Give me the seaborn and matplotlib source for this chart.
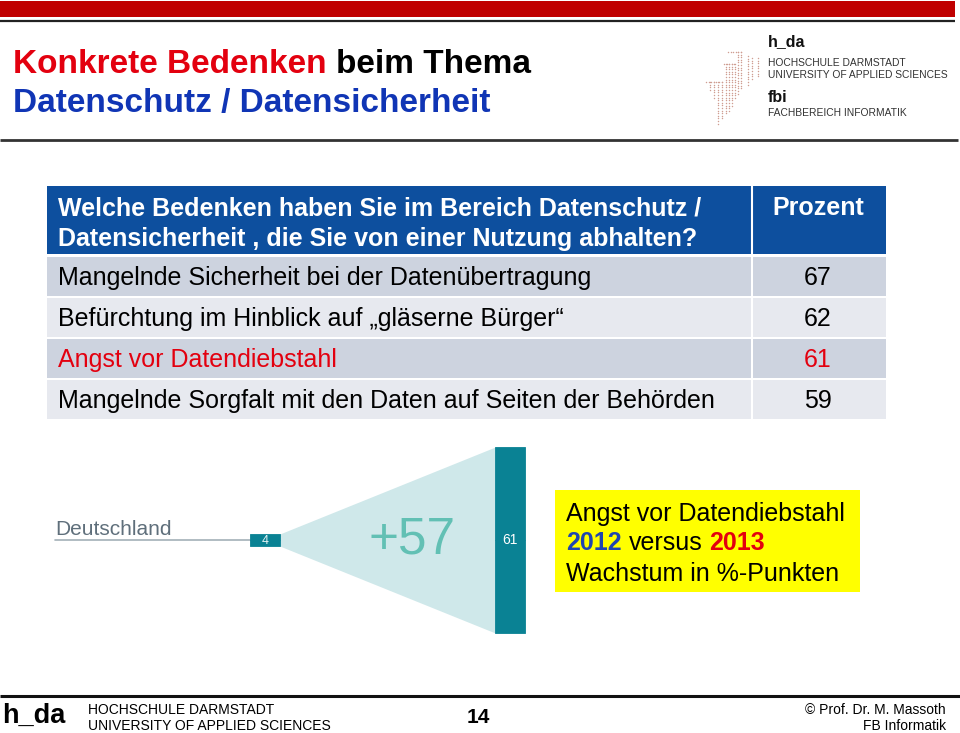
import numpy as np
import matplotlib
matplotlib.use("Agg")
import matplotlib.pyplot as plt
from matplotlib.patches import Rectangle
import seaborn as sns

# ---------------- data ----------------
title_line1 = [("Konkrete Bedenken", "red"), ("beim Thema", "black")]
title_line2 = "Datenschutz / Datensicherheit"
question_lines = ["Welche Bedenken haben Sie im Bereich Datenschutz /",
                  "Datensicherheit , die Sie von einer Nutzung abhalten?"]
value_header = "Prozent"
concerns = ["Mangelnde Sicherheit bei der Datenübertragung",
            "Befürchtung im Hinblick auf \u201egläserne Bürger\u201c",
            "Angst vor Datendiebstahl",
            "Mangelnde Sorgfalt mit den Daten auf Seiten der Behörden"]
percent = [67, 62, 61, 59]
highlight = [False, False, True, False]

country = "Deutschland"
years = ["2012", "2013"]
theft_values = [4, 61]

# ---------------- styling ----------------
sns.set_theme(style="white")
plt.rcParams["font.family"] = ["Liberation Sans", "DejaVu Sans"]

RED = "#e3000f"
BLUE = "#1035b5"
HEAD = "#0d4f9e"
ROW_DARK = "#cdd3df"
ROW_LIGHT = "#e7e9ef"
TEAL = "#0a8294"
TEAL_LIGHT = "#cfe8ea"
TEAL_TEXT = "#62c0b4"

W, H = 960, 733
fig = plt.figure(figsize=(W / 100, H / 100), dpi=100)
bg = fig.add_axes([0, 0, 1, 1])
bg.set_xlim(0, W)
bg.set_ylim(H, 0)
bg.axis("off")
renderer = fig.canvas.get_renderer()


def text_width(s, **kw):
    t = bg.text(0, 0, s, **kw)
    w = t.get_window_extent(renderer).width
    t.remove()
    return w


def seg_text(x, y, segments, **kw):
    """Draw consecutive text segments separated by a space."""
    sp = text_width("x x", **kw) - text_width("xx", **kw)
    for s, color in segments:
        t = bg.text(x, y, s, color=color, va="baseline", ha="left", **kw)
        x += t.get_window_extent(renderer).width + sp


# ---------------- top decoration ----------------
bg.add_patch(Rectangle((0, 1), 955, 16, color="#c00000", lw=0))
bg.plot([0, 955], [20.5, 20.5], color="#222222", lw=1.6, solid_capstyle="butt")
bg.plot([0, 958], [139.5, 139.5], color="#333333", lw=2.0, solid_capstyle="butt")

# title
seg_text(13, 73, [(title_line1[0][0], RED), (title_line1[1][0], "black")],
         fontsize=24, fontweight="bold")
bg.text(13, 112, title_line2, color=BLUE, fontsize=24, fontweight="bold",
        va="baseline")

# logo (top right)
logo_cols = [(718, 82, 125), (722, 82, 120), (714, 82, 100), (710, 82, 92),
             (726, 64, 115), (729, 64, 112), (732, 64, 108), (735, 64, 100),
             (738, 52, 95), (741, 52, 90), (748, 56, 86), (752, 58, 80),
             (758, 58, 78)]
for cx, y0, y1 in logo_cols:
    ys = np.arange(y0, y1, 2.6)
    bg.scatter(np.full(len(ys), cx), ys, s=1.1, color="#cf9e92", lw=0)
for yy, xa, xb in [(82, 706, 722), (64, 724, 736), (52, 728, 742)]:
    xs = np.arange(xa, xb, 2.6)
    bg.scatter(xs, np.full(len(xs), yy), s=1.1, color="#cf9e92", lw=0)
bg.text(768, 46, "h_da", fontsize=11.5, fontweight="bold", color="#111111",
        va="baseline")
bg.text(768, 66, "HOCHSCHULE DARMSTADT", fontsize=7.4, color="#333333",
        va="baseline")
bg.text(768, 78, "UNIVERSITY OF APPLIED SCIENCES", fontsize=7.4,
        color="#333333", va="baseline")
bg.text(768, 102, "fbi", fontsize=11.5, fontweight="bold", color="#111111",
        va="baseline")
bg.text(768, 116, "FACHBEREICH INFORMATIK", fontsize=7.4, color="#333333",
        va="baseline")

# ---------------- table ----------------
TL, TR, TD = 47, 886, 753
bg.add_patch(Rectangle((TL, 186), TR - TL, 68, color=HEAD, lw=0))
bg.plot([TD - 1.5, TD - 1.5], [186, 254], color="white", lw=1.5)
bg.text(58, 216, question_lines[0], color="white", fontsize=18,
        fontweight="bold", va="baseline")
bg.text(58, 246, question_lines[1], color="white", fontsize=18,
        fontweight="bold", va="baseline")
bg.text(818, 215, value_header, color="white", fontsize=18,
        fontweight="bold", va="baseline", ha="center")

for i, (label, val, hl) in enumerate(zip(concerns, percent, highlight)):
    top = 257 + i * 41
    col = ROW_DARK if i % 2 == 0 else ROW_LIGHT
    bg.add_patch(Rectangle((TL, top), TD - TL - 2, 39, color=col, lw=0))
    bg.add_patch(Rectangle((TD, top), TR - TD, 39, color=col, lw=0))
    tc = RED if hl else "black"
    bg.text(58, top + 28, label, color=tc, fontsize=18, va="baseline")
    bg.text(818, top + 28, str(val), color=tc, fontsize=18, va="baseline",
            ha="center")

# ---------------- growth graphic (seaborn bars) ----------------
ax = fig.add_axes([40 / W, (H - 640) / H, 500 / W, 200 / H])
bar_w = 0.122
half = [v / 2 for v in theft_values]
for sign in (1, -1):
    sns.barplot(x=years, y=[sign * h for h in half], order=years, color=TEAL,
                width=bar_w, saturation=1, errorbar=None, ax=ax,
                linewidth=0.6, edgecolor=TEAL, zorder=3)
x0, x1 = 0 + bar_w / 2, 1 - bar_w / 2
ax.fill_between([x0, x1], [-half[0], -half[1]], [half[0], half[1]],
                color=TEAL_LIGHT, lw=0, zorder=1)
ax.plot([-0.857, -bar_w / 2], [0, 0], color="#a3b0b8", lw=1.2, zorder=2)
ax.text(-0.857, 1.6, country, color="#5f6f7b", fontsize=15, va="baseline",
        ha="left")
ax.text(0, -0.2, str(theft_values[0]), color="#e6f4f5", fontsize=9,
        ha="center", va="center", zorder=4)
ax.text(1, 0, str(theft_values[1]), color="white", fontsize=10, ha="center",
        va="center", zorder=4)
ax.text(0.6, 0, f"+{theft_values[1] - theft_values[0]}", color=TEAL_TEXT,
        fontsize=37, ha="center", va="center", zorder=4)
ax.set_xlim(-0.918, 1.122)
ax.set_ylim(-32.8, 32.8)
ax.axis("off")
ax.patch.set_alpha(0)

# yellow info box
bg.add_patch(Rectangle((555, 490), 305, 102, color="#ffff00", lw=0))
bg.text(566, 521, "Angst vor Datendiebstahl", fontsize=18, color="black",
        va="baseline")
sp = text_width("x x", fontsize=18) - text_width("xx", fontsize=18)
t1 = bg.text(566, 550, years[0], fontsize=18, fontweight="bold",
             color="#1f45b0", va="baseline")
xx = 566 + t1.get_window_extent(renderer).width + sp
t2 = bg.text(xx, 550, "versus", fontsize=18, color="black", va="baseline")
xx += t2.get_window_extent(renderer).width + sp
bg.text(xx, 550, years[1], fontsize=18, fontweight="bold", color=RED,
        va="baseline")
bg.text(566, 581, "Wachstum in %-Punkten", fontsize=18, color="black",
        va="baseline")

# ---------------- footer ----------------
bg.plot([0, 960], [696, 696], color="#111111", lw=2.2, solid_capstyle="butt")
bg.text(2, 723, "h_da", fontsize=19.5, fontweight="bold",
        color="black", va="baseline")
bg.text(88, 714, "HOCHSCHULE DARMSTADT", fontsize=10,
        color="black", va="baseline")
bg.text(88, 730, "UNIVERSITY OF APPLIED SCIENCES", fontsize=10,
        color="black", va="baseline")
bg.text(478, 723, "14", fontsize=15, fontweight="bold",
        color="black", va="baseline", ha="center")
bg.text(946, 714, "\u00a9 Prof. Dr. M. Massoth", fontsize=10,
        color="black", va="baseline", ha="right")
bg.text(946, 730, "FB Informatik", fontsize=10,
        color="black", va="baseline", ha="right")

fig.savefig("out.png", dpi=100, facecolor="white")
